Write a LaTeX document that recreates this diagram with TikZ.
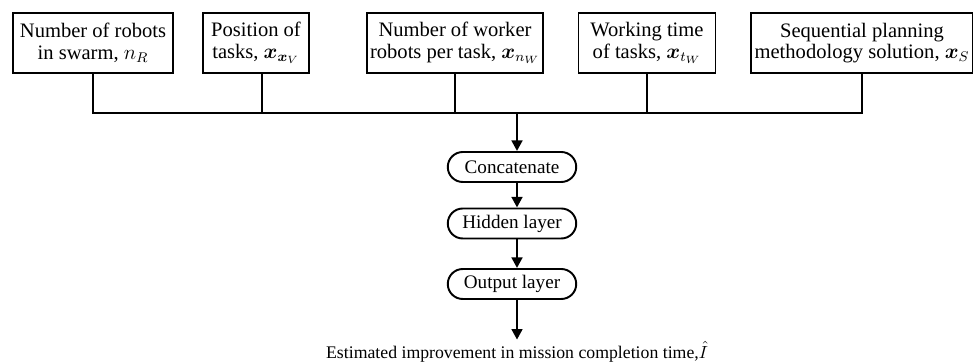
\documentclass[tikz,border=0pt]{standalone}
\usepackage{amsmath}
\usepackage{bm}
\usepackage{fontspec}
\setmainfont{Liberation Serif}
\newfontfamily\diagfont{Liberation Serif}
\usetikzlibrary{arrows.meta,positioning,shapes.misc}

\tikzset{
  inbox/.style={draw, line width=1.1pt, align=center, minimum height=1.2cm, inner sep=2pt,
    font=\diagfont\fontsize{11.7}{12.4}\selectfont},
  layer/.style={draw, line width=1.1pt, rounded rectangle, minimum width=2.64cm, minimum height=0.6cm,
    inner sep=1pt, font=\diagfont\fontsize{10.9}{13}\selectfont},
  wire/.style={line width=1.1pt},
  flow/.style={line width=1.5pt, -{Triangle[width=6pt,length=6pt]}}
}

\begin{document}
\begin{tikzpicture}[x=0.02cm, y=-0.02cm]
        % Rahmen
        \useasboundingbox (0,0) rectangle (973,364);

        % Eingaben
        \node[inbox, minimum width=3.2cm] (nrob) at (93,43) {Number of robots\\in swarm, $n_R$};
        \node[inbox, minimum width=2.12cm] (pos) at (256,43) {Position of\\tasks, $\bm{x}_{\bm{x}_V}$};
        \node[inbox, minimum width=3.52cm] (nwork) at (455,43) {Number of worker\\robots per task, $\bm{x}_{n_W}$};
        \node[inbox, minimum width=2.74cm] (wtime) at (647,43) {Working time\\of tasks, $\bm{x}_{t_W}$};
        \node[inbox, minimum width=4.36cm] (seq) at (862,43) {Sequential planning\\methodology solution, $\bm{x}_S$};

        % Sammelleitung
        \coordinate (join) at (517,113);
        \draw[wire] (nrob.south) |- (join);
        \draw[wire] (seq.south) |- (join);
        \draw[wire] ([xshift=0.12cm]pos.south) -- ([xshift=0.12cm]pos.south |- join);
        \draw[wire] (nwork.south) -- (nwork.south |- join);
        \draw[wire] (wtime.south) -- (wtime.south |- join);

        % Netz
        \node[layer] (concat) at (512,167) {Concatenate};
        \node[layer] (hidden) at (512,223.5) {Hidden layer};
        \node[layer] (outl) at (512,284) {Output layer};

        \draw[flow] (join) -- (join |- concat.north);
        \draw[flow] (join |- concat.south) -- (join |- hidden.north);
        \draw[flow] (join |- hidden.south) -- (join |- outl.north);

        % Ausgabe
        \node[font=\diagfont\fontsize{10.1}{12}\selectfont, inner sep=1pt] (est) at (517,352) {Estimated improvement in mission completion time,$\hat{I}$};
        \draw[flow] (join |- outl.south) -- (join |- est.north);

    \end{tikzpicture}
\end{document}
